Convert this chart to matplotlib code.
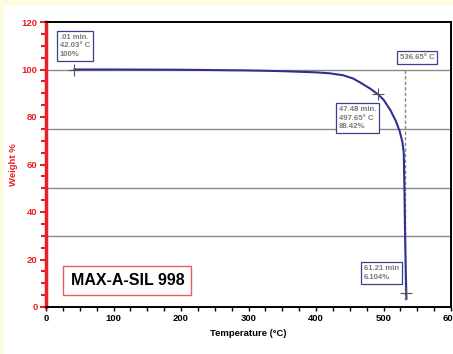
import matplotlib
matplotlib.use("Agg")
import matplotlib.pyplot as plt
from matplotlib.patches import Rectangle
from matplotlib.ticker import MultipleLocator

FONT = ["Liberation Sans", "DejaVu Sans"]
RED = "#e8202a"
BLUE = "#2e3192"

# TGA curve (temperature degC, weight %)
temp = [42, 100, 200, 300, 350, 400, 420, 440, 455, 465, 480, 492, 500,
        510, 518, 524, 528, 530, 531, 532, 533, 534]
weight = [100, 100, 99.9, 99.6, 99.3, 98.8, 98.4, 97.6, 96.2, 94.6, 92.0,
          89.5, 87.3, 83.0, 78.5, 74.0, 69.5, 65.0, 50.0, 30.0, 15.0, 3.5]

grid_levels = [100, 75, 50, 30]
onset_temp = 532.5
marker_temp = [42.03, 492, 534]
marker_weight = [100, 89.5, 6.0]

notes = [".01 min.\n42.03° C\n100%", "536.65° C",
         "47.48 min.\n497.65° C\n88.42%", "61.21 min\n6.104%"]
note_xy = [(20.5, 115.0), (524.0, 106.5), (434.0, 84.6), (471.0, 17.5)]
product = "MAX-A-SIL 998"


def main():
    plt.rcParams["font.family"] = FONT
    fig = plt.figure(figsize=(4.53, 3.54), dpi=100)
    fig.patch.set_facecolor("#fefbe3")
    fig.add_artist(Rectangle((4 / 453, 0), 1, 1 - 6 / 354, transform=fig.transFigure,
                             facecolor="white", edgecolor="none", zorder=-10))

    ax = fig.add_axes([46 / 453, 1 - 307 / 354, 405 / 453, 285 / 354])
    ax.set_facecolor("white")
    ax.set_xlim(0, 600)
    ax.set_ylim(0, 120)

    for g in grid_levels:
        ax.axhline(g, color="#8a8a8a", lw=1.0, zorder=1)

    ax.plot([onset_temp, onset_temp], [100, 3], color="#888888", lw=1.0,
            ls=(0, (2.5, 1.5)), zorder=2)
    ax.plot(temp, weight, color=BLUE, lw=1.5, zorder=3)
    ax.plot(marker_temp, marker_weight, ls="none", marker="+", ms=9, mew=0.8,
            color="#555555", zorder=4)

    for txt, (x, y) in zip(notes, note_xy):
        ax.text(x, y, txt, ha="left", va="top", fontsize=5.6, fontweight="bold",
                color="#7a7a7a", linespacing=1.3, zorder=5,
                bbox=dict(boxstyle="square,pad=0.4", facecolor="white",
                          edgecolor="#3a3f8f", lw=0.9))

    ax.text(120.7, 11.2, product, ha="center", va="center", fontsize=11.5,
            fontweight="bold", color="black", zorder=5,
            bbox=dict(boxstyle="square,pad=0.45", facecolor="white",
                      edgecolor="#ec5a60", lw=1.0))

    # spines
    ax.spines["left"].set_color(RED)
    ax.spines["left"].set_linewidth(2.5)
    for s in ["bottom", "top", "right"]:
        ax.spines[s].set_color("black")
        ax.spines[s].set_linewidth(1.4)

    ax.yaxis.set_major_locator(MultipleLocator(20))
    ax.yaxis.set_minor_locator(MultipleLocator(5))
    ax.xaxis.set_major_locator(MultipleLocator(100))
    ax.xaxis.set_minor_locator(MultipleLocator(25))
    ax.tick_params(axis="y", which="major", direction="out", length=4.5, width=1.5,
                   color=RED, labelcolor=RED, labelsize=6.8, pad=1.5)
    ax.tick_params(axis="y", which="minor", direction="out", length=3.5, width=1.5,
                   color=RED)
    ax.tick_params(axis="x", which="both", direction="out", length=3, width=1.0,
                   color="black", labelsize=6.8, pad=2)
    for lab in ax.get_xticklabels() + ax.get_yticklabels():
        lab.set_fontweight("bold")

    ax.set_xlabel("Temperature (°C)", fontsize=6.8, fontweight="bold")
    ax.set_ylabel("Weight %", fontsize=6.8, fontweight="bold", color=RED)
    ax.xaxis.set_label_coords(0.5, -0.077)
    ax.yaxis.set_label_coords(-0.070, 0.5)

    fig.savefig("out.png", dpi=100, facecolor=fig.get_facecolor())
    plt.close(fig)


if __name__ == "__main__":
    main()
